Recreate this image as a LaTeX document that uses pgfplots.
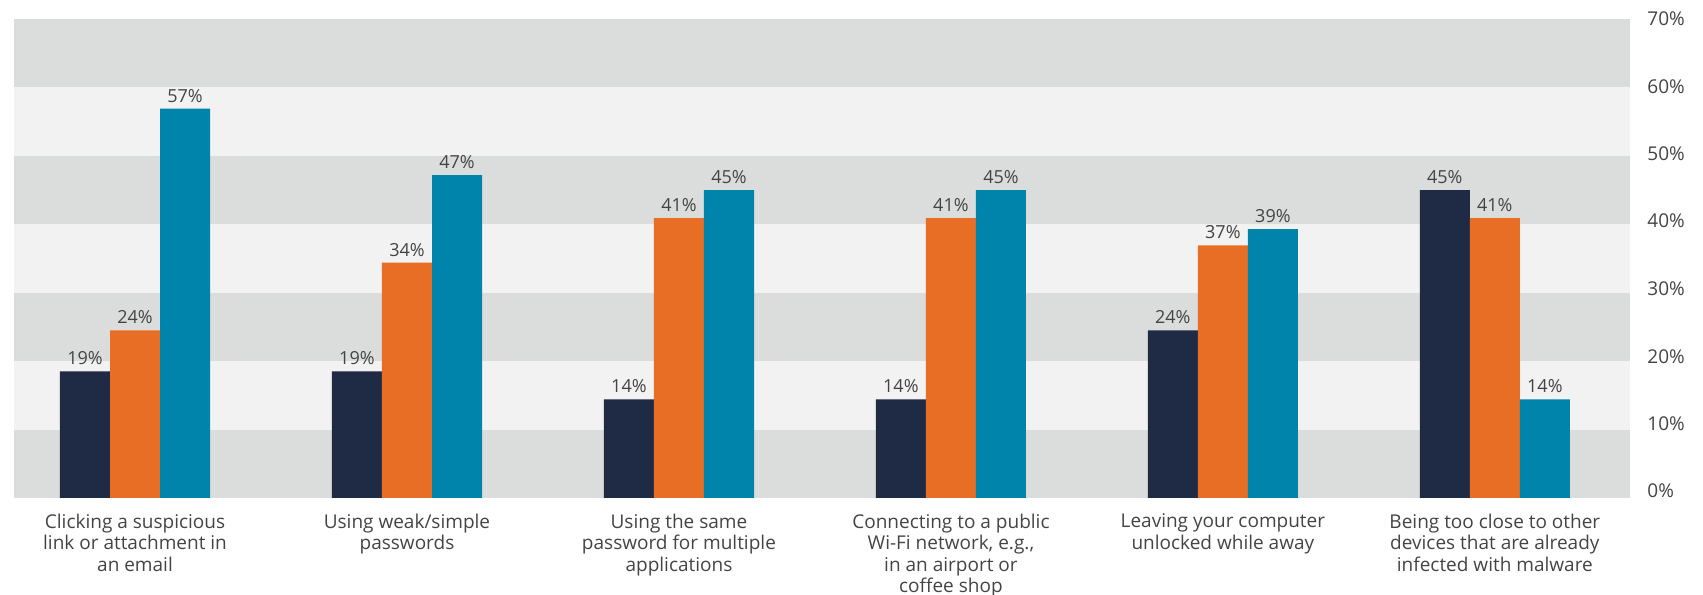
\documentclass[border=0pt]{standalone}
\usepackage{pgfplots}
\pgfplotsset{compat=1.18}
\usepackage{fontspec}
\setmainfont{Open Sans}
\definecolor{cnavy}{RGB}{31,42,69}
\definecolor{corange}{RGB}{232,109,37}
\definecolor{cteal}{RGB}{0,132,171}
\definecolor{bandA}{RGB}{219,221,220}
\definecolor{bandB}{RGB}{242,242,242}
\definecolor{ctext}{RGB}{68,68,68}
\begin{document}
\begin{tikzpicture}
\begin{axis}[
  name=ax,
  scale only axis,
  width=808pt, height=239.5pt,
  xmin=-0.445, xmax=5.497,
  ymin=0, ymax=70,
  ybar=0pt, bar width=0.184,
  axis line style={draw=none},
  tick style={draw=none},
  axis background/.style={fill=bandA},
  xtick={0,1,2,3,4,5},
  xticklabels={
    {Clicking a suspicious\\link or attachment in\\an email},
    {Using weak/simple\\passwords},
    {Using the same\\password for multiple\\applications},
    {Connecting to a public\\Wi-Fi network, e.g.,\\in an airport or\\coffee shop},
    {Leaving your computer\\unlocked while away},
    {Being too close to other\\devices that are already\\infected with malware}},
  xticklabel style={align=center, anchor=north, inner sep=0pt, yshift=-3.5pt,
    font=\fontsize{9.5}{10.7}\selectfont, text=ctext,
    execute at begin node={\rule{0pt}{8pt}}},
  ytick={1.0,10.85,20.7,30.55,40.45,50.3,60.1,70},
  yticklabels={0\%,10\%,20\%,30\%,40\%,50\%,60\%,70\%},
  yticklabel pos=right,
  yticklabel style={anchor=west, inner sep=0pt, xshift=8.5pt,
    font=\fontsize{9.5}{11}\selectfont, text=ctext},
  point meta=explicit symbolic,
  nodes near coords={\pgfplotspointmeta},
  every node near coord/.append style={anchor=south, inner sep=0pt, yshift=3pt,
    font=\fontsize{9}{11}\selectfont, text=ctext},
]
\fill[bandB] (axis cs:-0.445,10) rectangle (axis cs:5.497,20);
\fill[bandB] (axis cs:-0.445,30) rectangle (axis cs:5.497,40);
\fill[bandB] (axis cs:-0.445,50) rectangle (axis cs:5.497,60);
\addplot[fill=cnavy, draw=none] coordinates {
  (0,18.5) [19\%] (1,18.5) [19\%] (2,14.4) [14\%] (3,14.4) [14\%] (4,24.5) [24\%] (5,45.0) [45\%]};
\addplot[fill=corange, draw=none] coordinates {
  (0,24.5) [24\%] (1,34.4) [34\%] (2,40.9) [41\%] (3,40.9) [41\%] (4,36.9) [37\%] (5,40.9) [41\%]};
\addplot[fill=cteal, draw=none] coordinates {
  (0,56.9) [57\%] (1,47.2) [47\%] (2,45.0) [45\%] (3,45.0) [45\%] (4,39.3) [39\%] (5,14.4) [14\%]};
\end{axis}
\pgfresetboundingbox
\path ([xshift=-7pt,yshift=-48.5pt]ax.south west) rectangle ([xshift=36.5pt,yshift=9.5pt]ax.north east);
\end{tikzpicture}
\end{document}
